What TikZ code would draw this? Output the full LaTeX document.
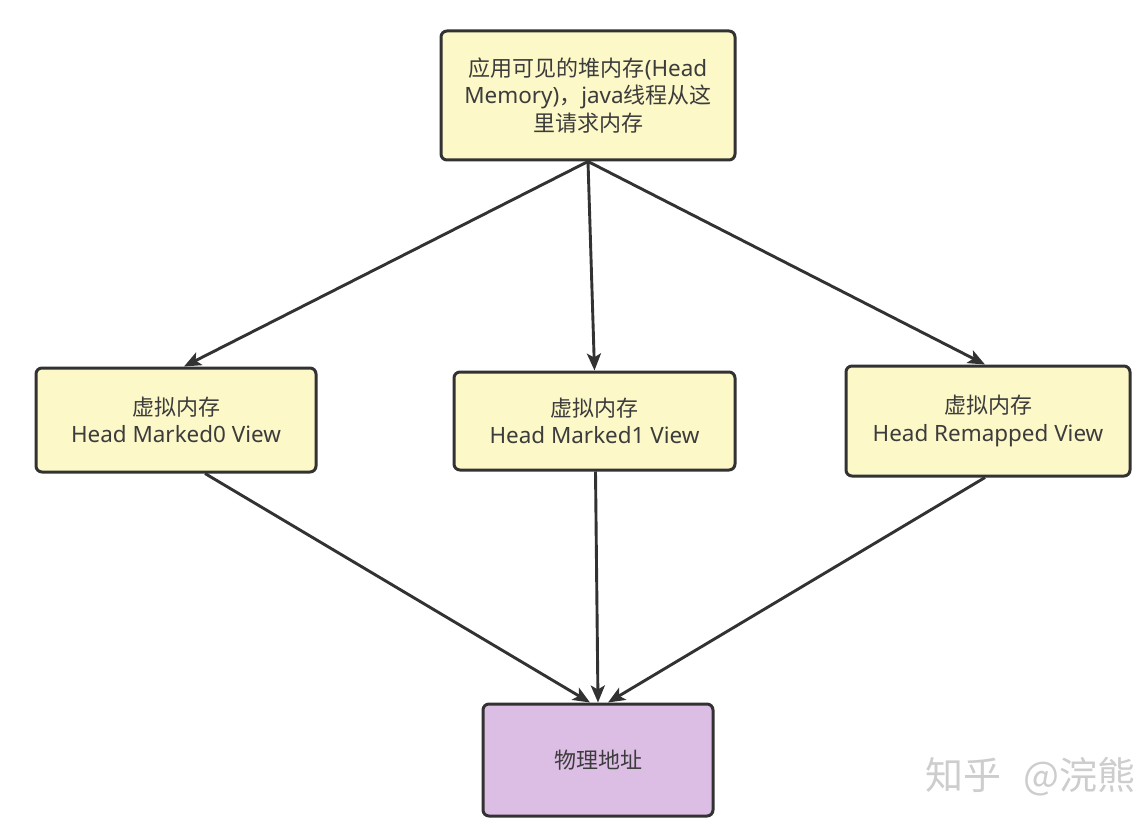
\documentclass[tikz,border=0pt]{standalone}
\usepackage{fontspec}
\setmainfont{Noto Sans}[Scale=1.02]
\newfontfamily\cjk{Noto Sans CJK SC}
\usetikzlibrary{arrows.meta}
\definecolor{boxy}{RGB}{252,248,200}
\definecolor{boxp}{RGB}{220,190,228}
\definecolor{edge}{RGB}{50,50,50}
\definecolor{txt}{RGB}{60,60,60}
\definecolor{wm}{RGB}{205,205,205}
\tikzset{
  box/.style={draw=edge, line width=3pt, rounded corners=6pt, fill=boxy,
    text=txt, align=center, inner sep=0pt,
    font=\fontsize{22}{27.5}\selectfont},
  arr/.style={draw=edge, line width=2.9pt,
    -{Stealth[length=17pt,width=14pt,inset=4pt]}},
}
\begin{document}
\begin{tikzpicture}[x=1pt,y=-1pt]
\useasboundingbox (0,0) rectangle (1138,832);
\fill[white] (0,0) rectangle (1138,832);
\node[box, minimum width=294pt, minimum height=129pt] (top) at (588,95.5)
  {{\cjk 应用可见的堆内存}(Head\\Memory){\cjk ，}java{\cjk 线程从这}\\{\cjk 里请求内存}};
\node[box, minimum width=280pt, minimum height=104pt] (left) at (176,420)
  {{\cjk 虚拟内存}\\Head Marked0 View};
\node[box, minimum width=281pt, minimum height=98pt] (mid) at (594.5,421)
  {{\cjk 虚拟内存}\\Head Marked1 View};
\node[box, minimum width=284pt, minimum height=110pt] (right) at (988,421)
  {{\cjk 虚拟内存}\\Head Remapped View};
\node[box, fill=boxp, minimum width=230pt, minimum height=112pt] (bot) at (598,760)
  {{\cjk 物理地址}};
\draw[arr] (top.south) -- ([xshift=8pt]left.north);
\draw[arr] (top.south) -- ([xshift=0pt]mid.north);
\draw[arr] (top.south) -- ([xshift=-3pt]right.north);
\draw[arr] ([xshift=29pt]left.south) -- ([xshift=-8pt]bot.north);
\draw[arr] ([xshift=1pt]mid.south) -- (bot.north);
\draw[arr] ([xshift=-3pt]right.south) -- ([xshift=10pt]bot.north);
\begin{scope}
\clip (0,0) rectangle (1138,832);
\node[anchor=west, text=wm, inner sep=0pt, font=\cjk\fontsize{38}{38}\selectfont] (wmk) at (925,777) {知乎\hspace{22pt}@浣熊};
\end{scope}
\end{tikzpicture}
\end{document}
